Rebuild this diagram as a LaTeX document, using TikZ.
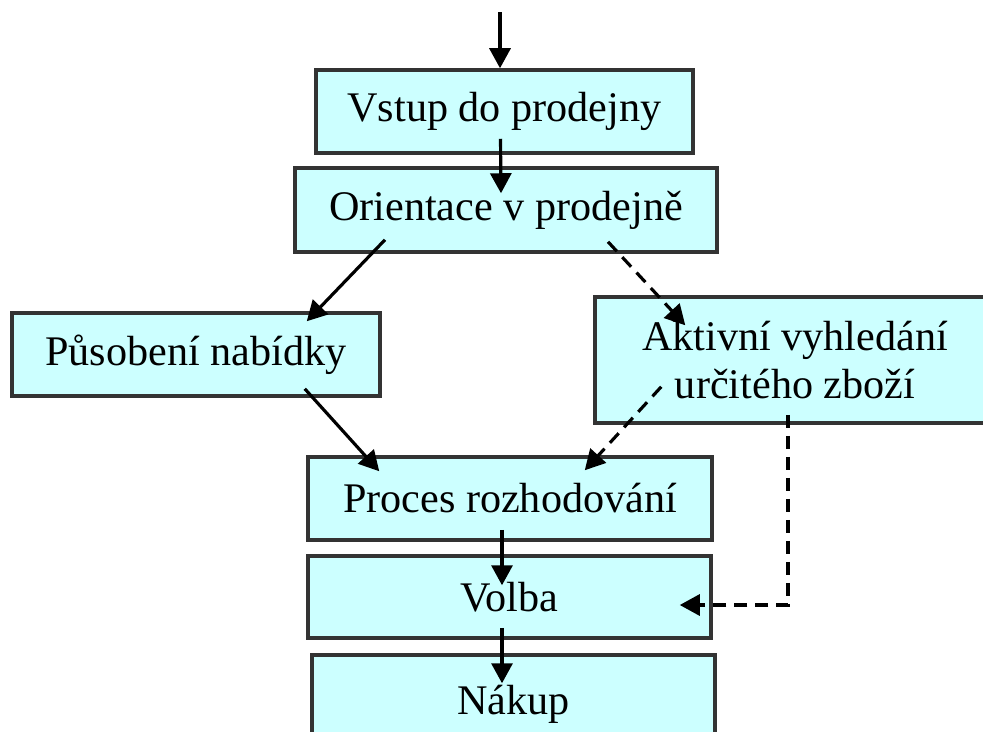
\documentclass[tikz,border=0pt]{standalone}
\usepackage{fontspec}
\setmainfont{Liberation Serif}
\usetikzlibrary{arrows.meta, calc}
\definecolor{boxfill}{RGB}{204,255,255}

\begin{document}
\begin{tikzpicture}
[
	x=0.2mm, y=-0.2mm,
	box/.style = {draw=black!80, fill=boxfill, line width=2pt, rectangle, inner sep=0pt, minimum height=16.6mm, font=\fontsize{24}{27}\selectfont, align=center},
	arr/.style = {-{Triangle[length=4mm, width=4.2mm]}, line width=1.8pt},
	darr/.style = {arr, dash pattern=on 2.6mm off 1.6mm}
]
\clip (0,0) rectangle (983,731);
\node[box, minimum width=75.4mm] (vstup) at (504.5,111.5) {Vstup do prodejny};
\node[box, minimum width=84.4mm, minimum height=16.8mm] (orient) at (506,210) {Orientace v prodejně};
\node[box, minimum width=73.6mm] (pusob) at (196,354.5) {Působení nabídky};
\node[box, minimum width=80mm, minimum height=25.2mm] (aktiv) at (795,360) {Aktivní vyhledání\\určitého zboží};
\node[box, minimum width=80.8mm] (proces) at (510,498.5) {Proces rozhodování};
\node[box, minimum width=80.6mm, minimum height=16.4mm] (volba) at (509.5,597) {Volba};
\node[box, minimum width=80.6mm, minimum height=19.6mm] (nakup) at (513.5,704) {Nákup};

\coordinate (in) at (500,12);
\draw[arr] (in) -- (in |- vstup.north);
\draw[arr] ($(vstup.south)+(-4,-16)$) -- ($(orient.north)+(-5,27)$);
\draw[arr] ($(orient.south)+(-121,-14)$) -- ($(pusob.north east)+(-75,10)$);
\draw[arr] ($(pusob.south east)+(-77,-9)$) -- ($(proces.north west)+(73,16)$);
\draw[darr] ($(orient.south)+(102,-12)$) -- ($(aktiv.north west)+(92,30)$);
\draw[darr] ($(aktiv.south west)+(68,-38)$) -- ($(proces.north east)+(-129,15)$);
\draw[arr] ($(proces.south)+(-8,-12)$) -- ($(volba.north)+(-7.5,31)$);
\draw[arr] ($(volba.south)+(-7.5,-12)$) -- ($(nakup.north)+(-11.5,30)$);
\draw[darr] ($(aktiv.south)+(-7,-10)$) |- ($(volba.east)+(-33,8)$);
\end{tikzpicture}
\end{document}
